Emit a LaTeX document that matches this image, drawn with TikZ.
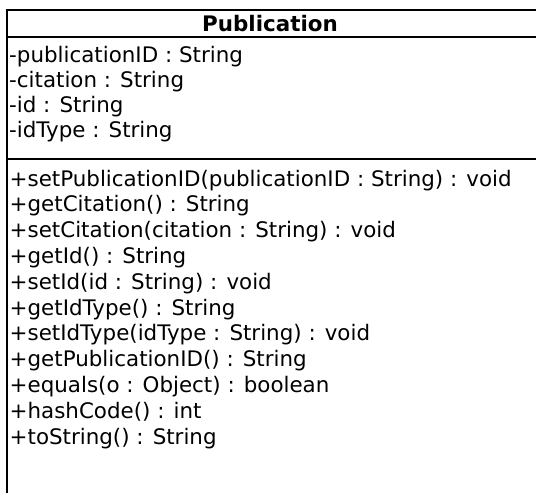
\documentclass[tikz,border=0pt]{standalone}
\usepackage{fontspec}
\setmainfont{DejaVu Sans}
\begin{document}
\begin{tikzpicture}[x=1pt,y=-1pt,
  rule/.style={line width=2pt, black},
  member/.style={anchor=base west, inner sep=0pt, font=\fontsize{21.4}{26}\selectfont},
  classname/.style={anchor=base, inner sep=0pt, font=\fontsize{21.4}{26}\selectfont\bfseries}]
\fill[white] (0,0) rectangle (536,493);
\useasboundingbox (0,0) rectangle (536,493);

% class frame: top edge, left edge and the two compartment rules
\coordinate (topR) at (536,10);
\coordinate (topL) at (7,10);
\coordinate (botL) at (7,493);
\coordinate (sepAL) at (7,37);
\coordinate (sepAR) at (536,37);
\coordinate (sepBL) at (7,159);
\coordinate (sepBR) at (536,159);
\draw[rule] (topR) -- (topL) -- (botL);
\draw[rule] (sepAL) -- (sepAR);
\draw[rule] (sepBL) -- (sepBR);

% class name
\node[classname] (cname) at (270,31) {Publication};

% attributes
\foreach \t [count=\i] in {-publicationID : String, -citation : String, -id : String, -idType : String}
  \node[member] (attr\i) at (9,{62+(\i-1)*25.3}) {\t};

% operations
\foreach \t [count=\i] in {
  +setPublicationID(publicationID : String) : void,
  +getCitation() : String,
  +setCitation(citation : String) : void,
  +getId() : String,
  +setId(id : String) : void,
  +getIdType() : String,
  +setIdType(idType : String) : void,
  +getPublicationID() : String,
  +equals(o : Object) : boolean,
  +hashCode() : int,
  +toString() : String}
  \node[member] (op\i) at (9.5,{186+(\i-1)*25.8}) {\t};
\end{tikzpicture}
\end{document}
